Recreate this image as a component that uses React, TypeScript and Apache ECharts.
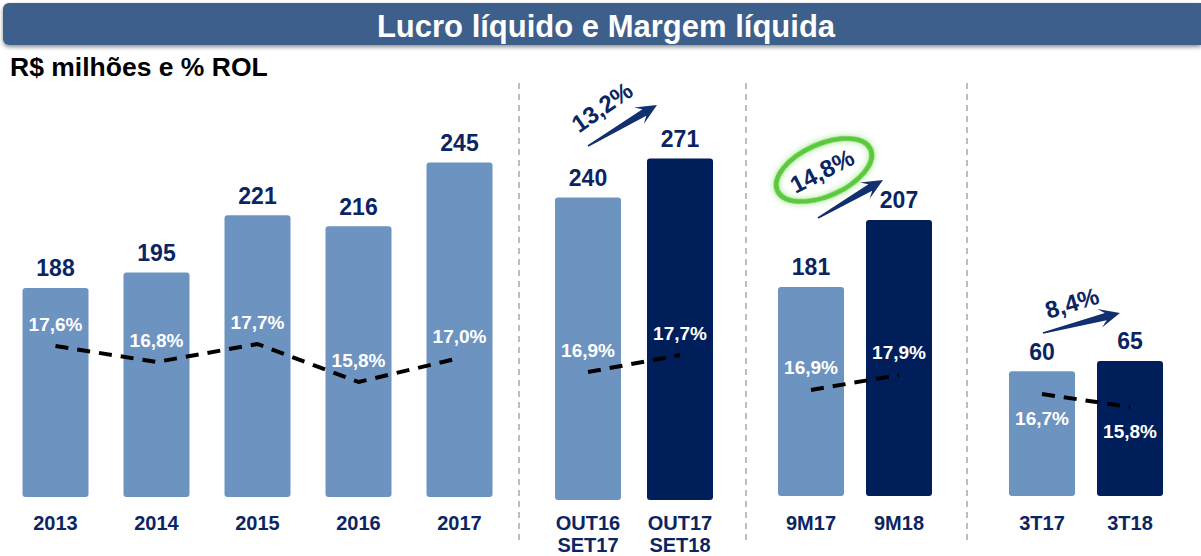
import React, { useEffect, useRef } from "react";
import * as echarts from "echarts";

const annualCats = ["2013", "2014", "2015", "2016", "2017"];
const annualProfit = [188, 195, 221, 216, 245];
const annualMargin = [17.6, 16.8, 17.7, 15.8, 17.0];

const ltmCats = ["OUT16\nSET17", "OUT17\nSET18"];
const ltmProfit = [240, 271];
const ltmMargin = [16.9, 17.7];

const ytdCats = ["9M17", "9M18"];
const ytdProfit = [181, 207];
const ytdMargin = [16.9, 17.9];

const qCats = ["3T17", "3T18"];
const qProfit = [60, 65];
const qMargin = [16.7, 15.8];

const growthLabels = ["13,2%", "14,8%", "8,4%"];

const LIGHT = "#6d93c0";
const DARK = "#001f5a";
const NAVY = "#0b2563";
const FONT = "'Liberation Sans', Arial, sans-serif";

const pct = (v: number) => v.toFixed(1).replace(".", ",") + "%";

function arrowPts(x1: number, y1: number, x2: number, y2: number) {
  const dx = x2 - x1, dy = y2 - y1;
  const len = Math.hypot(dx, dy);
  const ux = dx / len, uy = dy / len;
  const nx = -uy, ny = ux;
  const hl = 21, hw = 9.5, sw = 3.8;
  const bx = x2 - ux * hl, by = y2 - uy * hl;
  const kx = x2 - ux * hl * 0.7, ky = y2 - uy * hl * 0.7;
  return [
    [x1 + nx * 0.8, y1 + ny * 0.8],
    [kx + nx * sw, ky + ny * sw],
    [bx + nx * hw, by + ny * hw],
    [x2, y2],
    [bx - nx * hw, by - ny * hw],
    [kx - nx * sw, ky - ny * sw],
    [x1 - nx * 0.8, y1 - ny * 0.8],
  ];
}

export default function App() {
  const ref = useRef<HTMLDivElement>(null);
  useEffect(() => {
    if (!ref.current) return;
    const chart = echarts.init(ref.current, undefined, { renderer: "svg" });

    const groups = [
      { cats: annualCats, profit: annualProfit, margin: annualMargin, left: 5, width: 505, bottomY: 497, yMin: 93, yMax: 275.7, mMin: 10.05, mMax: 30.15, margin2: 15, dark: false, labelPos: "top" },
      { cats: ltmCats, profit: ltmProfit, margin: ltmMargin, left: 542, width: 184, bottomY: 500, yMin: 0, yMax: 321.4, mMin: 10.88, mMax: 29.94, margin2: 12, dark: true, labelPos: "top" },
      { cats: ytdCats, profit: ytdProfit, margin: ytdMargin, left: 767, width: 176, bottomY: 496, yMin: 100, yMax: 255.4, mMin: 9.83, mMax: 36.57, margin2: 16, dark: true, labelPos: "top" },
      { cats: qCats, profit: qProfit, margin: qMargin, left: 998, width: 176, bottomY: 496, yMin: 0, yMax: 193, mMin: 9.64, mMax: 37.4, margin2: 16, dark: true, labelPos: "bottom" },
    ];

    const grid: any[] = [];
    const xAxis: any[] = [];
    const yAxis: any[] = [];
    const series: any[] = [];

    groups.forEach((g, i) => {
      grid.push({ left: g.left, width: g.width, top: 95, bottom: 556 - g.bottomY });
      xAxis.push({
        type: "category",
        gridIndex: i,
        data: g.cats,
        axisLine: { show: false },
        axisTick: { show: false },
        axisLabel: {
          color: NAVY,
          fontFamily: FONT,
          fontWeight: "bold",
          fontSize: 20,
          lineHeight: 22,
          margin: g.margin2,
          interval: 0,
        },
      });
      yAxis.push({ type: "value", gridIndex: i, min: g.yMin, max: g.yMax, show: false, splitLine: { show: false } });
      yAxis.push({ type: "value", gridIndex: i, min: g.mMin, max: g.mMax, show: false, splitLine: { show: false } });
      series.push({
        type: "bar",
        xAxisIndex: i,
        yAxisIndex: i * 2,
        barWidth: 66,
        data: g.profit.map((v, j) => ({
          value: v,
          itemStyle: { color: g.dark && j === 1 ? DARK : LIGHT, borderRadius: 3 },
        })),
        label: {
          show: true,
          position: "top",
          distance: 8,
          color: NAVY,
          fontFamily: FONT,
          fontWeight: "bold",
          fontSize: 23,
        },
      });
      series.push({
        type: "line",
        xAxisIndex: i,
        yAxisIndex: i * 2 + 1,
        data: g.margin,
        symbol: "circle",
        symbolSize: 1,
        itemStyle: { color: "rgba(0,0,0,0)" },
        lineStyle: { color: "#000", width: 4, type: [13, 9] },
        z: 5,
        label: {
          show: true,
          position: g.labelPos,
          distance: g.labelPos === "top" ? 12 : 14,
          color: "#fff",
          fontFamily: FONT,
          fontWeight: "bold",
          fontSize: 19,
          formatter: (p: any) => pct(p.value),
        },
      });
    });

    const dividers = [519, 746, 967].map((x) => ({
      type: "line",
      shape: { x1: x, y1: 83, x2: x, y2: 542 },
      style: { stroke: "#a8a8a8", lineWidth: 1.5, lineDash: [6, 5] },
    }));

    const arrows = [
      [588, 146, 657, 105],
      [818, 218, 883, 180],
      [1043, 333, 1120, 313],
    ].map((a) => ({
      type: "polygon",
      shape: { points: arrowPts(a[0], a[1], a[2], a[3]) },
      style: { fill: "#12306f" },
      z: 10,
    }));

    const growthPos = [
      { x: 602, y: 107, rot: 35 },
      { x: 822, y: 171, rot: 27 },
      { x: 1072, y: 303, rot: 17 },
    ];
    const growthTexts = growthLabels.map((t, i) => ({
      type: "text",
      x: growthPos[i].x,
      y: growthPos[i].y,
      rotation: (growthPos[i].rot * Math.PI) / 180,
      style: {
        text: t,
        fill: NAVY,
        font: `bold 24px ${FONT}`,
        align: "center",
        verticalAlign: "middle",
      },
      z: 11,
    }));

    const option: any = {
      animation: false,
      backgroundColor: "#fff",
      grid,
      xAxis,
      yAxis,
      series,
      graphic: [
        {
          type: "rect",
          shape: { x: 3, y: 3, width: 1198, height: 42, r: [6, 0, 0, 6] },
          style: { fill: "#3e5f8b", shadowBlur: 4, shadowOffsetY: 2, shadowColor: "rgba(0,0,0,0.45)" },
        },
        {
          type: "text",
          x: 606,
          y: 26,
          style: {
            text: "Lucro líquido e Margem líquida",
            fill: "#fff",
            font: `bold 31px ${FONT}`,
            align: "center",
            verticalAlign: "middle",
          },
        },
        {
          type: "text",
          x: 10,
          y: 67,
          style: {
            text: "R$ milhões e % ROL",
            fill: "#000",
            font: `bold 26.5px ${FONT}`,
            align: "left",
            verticalAlign: "middle",
          },
        },
        ...dividers,
        {
          type: "ellipse",
          x: 824,
          y: 170,
          rotation: (24 * Math.PI) / 180,
          shape: { cx: 0, cy: 0, rx: 51, ry: 26 },
          style: { fill: "none", stroke: "#5cc83c", lineWidth: 5, shadowBlur: 6, shadowColor: "#9be684" },
          z: 9,
        },
        ...arrows,
        ...growthTexts,
      ],
    };
    chart.setOption(option);
    return () => chart.dispose();
  }, []);

  return (
    <div
      ref={ref}
      style={{ position: "absolute", left: 0, top: 0, width: 1201, height: 556 }}
    />
  );
}
